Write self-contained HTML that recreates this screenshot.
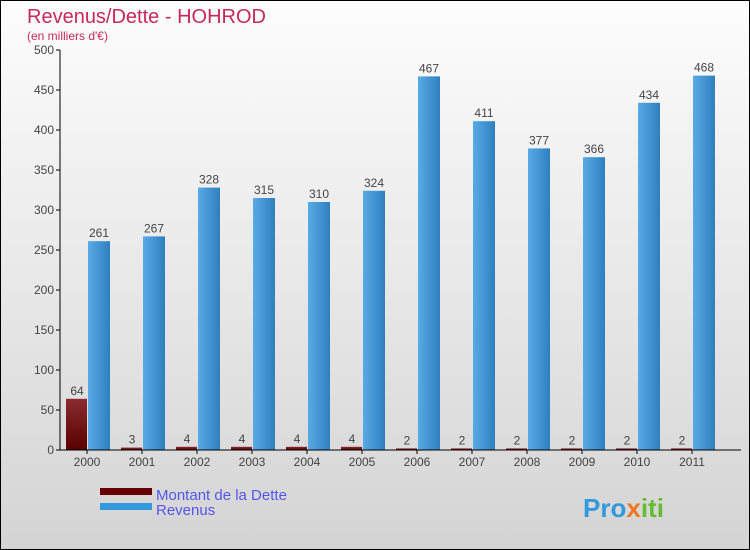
<!DOCTYPE html>
<html><head><meta charset="utf-8"><style>
body{margin:0}
#c{width:748px;height:548px;border:1px solid #000;position:relative;background:linear-gradient(#fdfdfd,#d4d4d4);font-family:"Liberation Sans",sans-serif;overflow:hidden}
</style></head><body>
<div id="c">
<svg id="s" width="748" height="548" style="position:absolute;left:0;top:0">
<defs>
<linearGradient id="gd" x1="0" y1="0" x2="0" y2="1"><stop offset="0" stop-color="#8a2c30"/><stop offset="1" stop-color="#5a0000"/></linearGradient>
<linearGradient id="gr" x1="0" y1="0" x2="1" y2="0"><stop offset="0" stop-color="#58abe6"/><stop offset="1" stop-color="#2f7fc0"/></linearGradient>
</defs>
<text x="26" y="22" font-size="20" fill="#c8285a">Revenus/Dette - HOHROD</text>
<text x="26" y="39" font-size="12" fill="#c8285a">(en milliers d'€)</text>
<g id="g"></g>
<rect x="99" y="487" width="52" height="7" fill="#660000"/>
<rect x="99" y="502" width="52" height="7" fill="#3399dd"/>
<text x="155" y="499" font-size="15" fill="#5555ee">Montant de la Dette</text>
<text x="155" y="514" font-size="15" fill="#5555ee">Revenus</text>
<text x="582" y="516" font-size="26" font-weight="bold" fill="#3399dd">Pro<tspan fill="#ee7722">x</tspan><tspan fill="#66bb33">iti</tspan></text>
</svg>
</div>
<script>
const years=["2000","2001","2002","2003","2004","2005","2006","2007","2008","2009","2010","2011"];
const dette=[64,3,4,4,4,4,2,2,2,2,2,2];
const revenus=[261,267,328,315,310,324,467,411,377,366,434,468];
const ticks=[0,50,100,150,200,250,300,350,400,450,500];
const NS="http://www.w3.org/2000/svg";
const g=document.getElementById('g');
const x0=59,y0=449,yTop=49,maxV=500,step=55,first=86;
const y=v=>y0-(y0-yTop)*v/maxV;
const cx=i=>first+step*i;
function mk(t,a){const e=document.createElementNS(NS,t);for(const k in a)e.setAttribute(k,a[k]);g.appendChild(e);return e;}
ticks.forEach(t=>{
 const l=mk('line',{x1:x0-4,x2:x0,y1:y(t),y2:y(t),stroke:'#000'});
 
 
 const tx=mk('text',{x:x0-6,y:y(t)+4,'font-size':12,fill:'#444','text-anchor':'end'});tx.textContent=t;
 
 
});
years.forEach((yr,i)=>{
 const c=cx(i);
 const d=mk('rect',{x:c-21,y:y(dette[i]),width:21,height:y0-y(dette[i]),fill:'url(#gd)'});
 
 
 const r=mk('rect',{x:c+1,y:y(revenus[i]),width:22,height:y0-y(revenus[i]),fill:'url(#gr)'});
 
 
 const dl=mk('text',{x:c-10,y:y(dette[i])-4,'font-size':12,fill:'#444','text-anchor':'middle'});dl.textContent=dette[i];
 
 
 const rl=mk('text',{x:c+12,y:y(revenus[i])-4,'font-size':12,fill:'#444','text-anchor':'middle'});rl.textContent=revenus[i];
 
 
 const tk=mk('line',{x1:c,x2:c,y1:y0,y2:y0+4,stroke:'#000'});
 
 
 const xl=mk('text',{x:c,y:y0+16,'font-size':12,fill:'#444','text-anchor':'middle'});xl.textContent=yr;
 
 
});
const ya=mk('line',{x1:x0,x2:x0,y1:yTop,y2:y0,stroke:'#000'});


const xa=mk('line',{x1:x0,x2:740,y1:y0,y2:y0,stroke:'#000'});


</script>
</body></html>
